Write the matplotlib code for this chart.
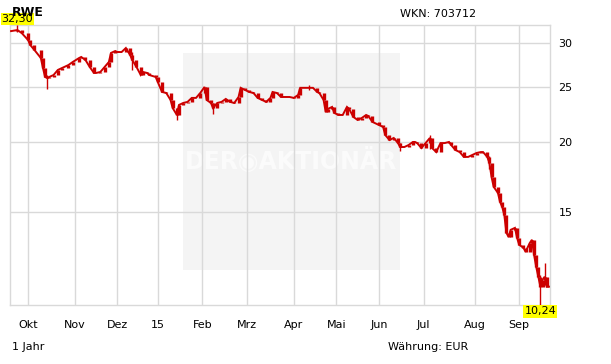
import matplotlib
matplotlib.use('Agg')
import matplotlib.pyplot as plt
from matplotlib.ticker import FixedLocator, FixedFormatter, NullLocator
from matplotlib.patches import Rectangle

# ---- data (RWE, 1 year, EUR) ----
trading_day = [0, 1, 3, 5, 8, 9, 11, 14, 15, 16, 17, 18, 20, 22, 24, 27, 29, 32, 33, 35,
               37, 39, 40, 42, 44, 46, 47, 49, 50, 52, 54, 56, 57, 59, 61, 62, 64, 65, 68, 69,
               71, 73, 75, 76, 78, 79, 81, 83, 85, 87, 89, 91, 92, 94, 95, 97, 99, 101, 103, 105,
               107, 108, 110, 112, 114, 116, 118, 120, 122, 123, 125, 127, 129, 131, 133, 135, 136, 137, 140, 142,
               144, 145, 147, 148, 149, 151, 152, 154, 156, 158, 159, 161, 163, 165, 167, 168, 170, 173, 175, 176,
               178, 180, 182, 183, 185, 187, 189, 190, 191, 193, 195, 197, 198, 200, 202, 204, 206, 207, 209, 211,
               213, 215, 217, 219, 221, 222, 224, 225, 226, 227, 229, 230, 231, 232, 233, 234, 235, 237, 238, 239,
               241, 242, 244, 245, 246, 247, 248, 249, 250, 251, 252, 253]
close = [31.50, 31.55, 31.64, 31.25, 30.37, 29.76, 29.15, 28.21, 27.08, 26.10, 26.00, 26.10, 26.31, 26.86, 27.08, 27.41, 27.75, 28.21, 28.33, 27.98,
         27.19, 26.53, 26.53, 26.64, 27.19, 27.75, 28.80, 29.03, 28.91, 28.91, 29.39, 28.56, 27.98, 27.19, 26.31, 26.64, 26.53, 26.31, 26.10, 25.56,
         24.54, 24.44, 23.75, 22.98, 22.33, 23.27, 23.46, 23.56, 23.95, 23.95, 24.44, 25.05, 23.75, 23.46, 22.98, 23.46, 23.56, 23.85, 23.56, 23.46,
         24.04, 24.96, 24.75, 24.54, 24.44, 23.95, 23.75, 23.56, 23.95, 24.54, 24.44, 24.04, 24.04, 24.04, 23.95, 24.24, 24.96, 24.96, 24.96, 24.96,
         24.54, 24.44, 23.75, 22.61, 22.89, 23.08, 22.52, 22.33, 22.33, 23.08, 22.89, 22.15, 21.88, 22.06, 22.33, 22.24, 21.70, 21.44, 21.26, 20.57,
         20.15, 20.32, 19.90, 19.58, 19.58, 19.74, 19.99, 19.99, 19.90, 19.50, 19.90, 20.32, 19.50, 19.18, 19.90, 19.90, 19.99, 19.74, 19.34, 19.18,
         18.80, 18.80, 18.95, 19.11, 19.18, 19.18, 18.80, 18.34, 17.32, 16.63, 16.22, 15.63, 15.32, 14.82, 13.77, 13.54, 13.94, 14.05, 13.49, 13.11,
         12.95, 12.74, 13.21, 13.38, 12.58, 11.98, 11.50, 11.04, 11.36, 11.50, 11.04, 11.04]
# notable intraday extremes
wick_day = [3, 17, 57, 78, 95, 140, 183, 197, 225, 249, 251]
wick_low = [31.40, 24.80, 26.90, 21.90, 22.40, 24.70, 19.30, 19.40, 17.90, 10.24, 11.10]
wick_high = [32.30, 26.30, 28.90, 23.00, 23.50, 25.30, 19.90, 20.60, 18.90, 11.60, 12.18]

month_labels = ['Okt', 'Nov', 'Dez', '15', 'Feb', 'Mrz', 'Apr', 'Mai', 'Jun', 'Jul', 'Aug', 'Sep']
month_start_day = [8, 30, 50, 69, 90, 111, 133, 153, 173, 194, 218, 239]
y_ticks = [15, 20, 25, 30]

title = 'RWE'
wkn = 'WKN: 703712'
period = '1 Jahr'
currency = 'Währung: EUR'

# ---- figure ----
W, H = 611, 364
fig = plt.figure(figsize=(W / 100, H / 100), dpi=100)
fig.patch.set_facecolor('white')
ax = fig.add_axes([10 / W, 1 - 305 / H, 540 / W, 280 / H])
ax.set_facecolor('white')

red = '#cc0000'
grid_c = '#d9d9d9'

# watermark box (inside axes, behind data)
ax.add_patch(Rectangle((183 / W, 1 - 270 / H), 217 / W, 217 / H,
                       transform=fig.transFigure, facecolor='#f4f4f4',
                       edgecolor='none', zorder=0.1, clip_on=False))
ax.text(291 / W, 1 - 161 / H, 'DER◉AKTIONÄR', transform=fig.transFigure,
        ha='center', va='center', fontsize=17, fontweight='bold',
        color='#fbfbfb', zorder=0.2)

# candles: thin connecting line + bodies
ax.plot(trading_day, close, color=red, lw=1.4, zorder=3, solid_joinstyle='miter')
opens = [close[0]] + close[:-1]
for d, o, c in zip(trading_day, opens, close):
    lo, hi = min(o, c), max(o, c)
    ax.vlines(d, lo, hi, color=red, lw=2.4, zorder=3)
for d, lo, hi in zip(wick_day, wick_low, wick_high):
    ax.vlines(d, lo, hi, color=red, lw=1.0, zorder=3)

ax.set_yscale('log')
ymin, ymax = min(wick_low + close), max(wick_high + close)
ax.set_ylim(ymin, ymax)
ax.set_xlim(-0.5, 253.5)

ax.yaxis.set_major_locator(FixedLocator(y_ticks))
ax.yaxis.set_major_formatter(FixedFormatter([str(v) for v in y_ticks]))
ax.yaxis.set_minor_locator(NullLocator())
ax.yaxis.tick_right()
ax.set_xticks(month_start_day)
ax.set_xticklabels(month_labels)
ax.tick_params(axis='both', length=0, labelsize=8, colors='black')
ax.tick_params(axis='x', pad=11)
ax.tick_params(axis='y', pad=6)
ax.grid(True, color=grid_c, lw=1.0, zorder=0.5)
ax.set_axisbelow(True)
for s in ax.spines.values():
    s.set_color(grid_c)
    s.set_linewidth(1.0)

# high / low labels
i_hi = wick_high.index(ymax)
ax.annotate(f'{ymax:.2f}'.replace('.', ','), (wick_day[i_hi], ymax), xytext=(0, 1),
            textcoords='offset points', ha='center', va='bottom', fontsize=8,
            bbox=dict(boxstyle='square,pad=0.1', fc='#ffff00', ec='none'), zorder=5,
            annotation_clip=False)
i_lo = wick_low.index(ymin)
ax.annotate(f'{ymin:.2f}'.replace('.', ','), (wick_day[i_lo], ymin), xytext=(0, -1),
            textcoords='offset points', ha='center', va='top', fontsize=8,
            bbox=dict(boxstyle='square,pad=0.1', fc='#ffff00', ec='none'), zorder=5,
            annotation_clip=False)

fig.text(12 / W, 1 - 12 / H, title, ha='left', va='center', fontsize=9, fontweight='bold', zorder=0)
fig.text(400 / W, 1 - 14 / H, wkn, ha='left', va='center', fontsize=8)
fig.text(12 / W, 1 - 347 / H, period, ha='left', va='center', fontsize=8)
fig.text(388 / W, 1 - 347 / H, currency, ha='left', va='center', fontsize=8)

fig.savefig('out.png', dpi=100)
